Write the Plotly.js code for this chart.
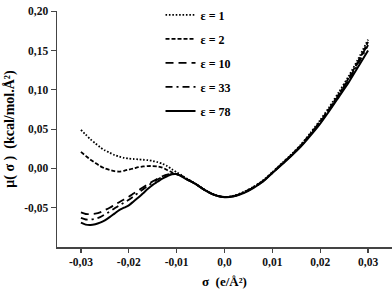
<!DOCTYPE html>
<html>
<head>
<meta charset="utf-8">
<script src="https://cdn.plot.ly/plotly-3.0.1.min.js"></script>
<style>html,body{margin:0;padding:0;background:#fff;}#chart{width:392px;height:289px;}</style>
</head>
<body>
<div id="chart"></div>
<script>
// sigma values (e/Å²)
const sigmaLeft = [-0.030,-0.029,-0.028,-0.027,-0.026,-0.025,-0.024,-0.023,-0.022,-0.021,-0.020,-0.019,-0.018,-0.017,-0.016,-0.015,-0.014,-0.013,-0.012,-0.011,-0.010];
const sigmaRight = [-0.009,-0.008,-0.006,-0.004,-0.002,0.000,0.002,0.004,0.006,0.008,0.010,0.012,0.014,0.016,0.018,0.020,0.022,0.024,0.026,0.028,0.030];

// mu(sigma) for each dielectric constant, left part
const muEps1Left  = [0.049,0.043,0.037,0.032,0.027,0.023,0.020,0.017,0.015,0.0135,0.0125,0.012,0.0115,0.011,0.0105,0.0095,0.008,0.006,0.003,-0.001,-0.005];
const muEps2Left  = [0.021,0.016,0.011,0.007,0.003,0.000,-0.002,-0.0035,-0.004,-0.003,-0.0015,0.000,0.0015,0.0025,0.003,0.003,0.0025,0.001,-0.002,-0.005,-0.0075];
const muEps10Left = [-0.056,-0.058,-0.058,-0.0575,-0.056,-0.053,-0.050,-0.0465,-0.043,-0.0395,-0.036,-0.032,-0.028,-0.024,-0.020,-0.0165,-0.013,-0.010,-0.008,-0.007,-0.0072];
const muEps33Left = [-0.063,-0.065,-0.065,-0.064,-0.062,-0.0585,-0.055,-0.051,-0.047,-0.0435,-0.040,-0.0355,-0.031,-0.0265,-0.022,-0.018,-0.014,-0.011,-0.0085,-0.0072,-0.0072];
const muEps78Left = [-0.069,-0.0715,-0.072,-0.071,-0.069,-0.066,-0.062,-0.0575,-0.053,-0.050,-0.047,-0.042,-0.037,-0.0315,-0.026,-0.021,-0.017,-0.013,-0.010,-0.0075,-0.0072];

// right part
const muEps1Right  = [-0.0085,-0.0125,-0.0195,-0.0275,-0.0335,-0.0363,-0.0347,-0.030,-0.0235,-0.0155,-0.0048,0.0067,0.018,0.0305,0.0455,0.0615,0.079,0.098,0.118,0.140,0.164];
const muEps2Right  = [-0.0095,-0.013,-0.020,-0.028,-0.034,-0.0365,-0.035,-0.0305,-0.024,-0.016,-0.0052,0.006,0.0175,0.0298,0.0445,0.060,0.077,0.0955,0.1155,0.137,0.161];
const muEps10Right = [-0.0097,-0.0132,-0.020,-0.028,-0.034,-0.0366,-0.035,-0.0308,-0.0245,-0.0163,-0.0055,0.0057,0.017,0.029,0.0437,0.059,0.076,0.0945,0.114,0.136,0.159];
const muEps33Right = [-0.0098,-0.0133,-0.020,-0.028,-0.034,-0.0366,-0.0352,-0.031,-0.0247,-0.0166,-0.0058,0.0053,0.0165,0.0285,0.043,0.058,0.0752,0.093,0.1125,0.134,0.157];
const muEps78Right = [-0.010,-0.0135,-0.020,-0.028,-0.034,-0.0366,-0.0355,-0.0315,-0.025,-0.017,-0.006,0.005,0.016,0.028,0.042,0.057,0.074,0.092,0.110,0.130,0.150];

const seriesNames = ["ε = 1","ε = 2","ε = 10","ε = 33","ε = 78"];
const seriesLeft = [muEps1Left, muEps2Left, muEps10Left, muEps33Left, muEps78Left];
const seriesRight = [muEps1Right, muEps2Right, muEps10Right, muEps33Right, muEps78Right];

const xTickVals = [-0.03,-0.02,-0.01,0,0.01,0.02,0.03];
const xTickText = ["-0,03","-0,02","-0,01","0,0","0,01","0,02","0,03"];
const yTickVals = [0.20,0.15,0.10,0.05,0.00,-0.05];
const yTickText = ["0,20","0,15","0,10","0,05","0,00","-0,05"];

const dashes = ["1.6px,1.8px","4px,2px","8px,5px","7px,4px,2px,4px","solid"];
const widths = [1.8,1.8,1.8,1.8,2];

const sigma = sigmaLeft.concat(sigmaRight);
const traces = seriesNames.map((name, i) => ({
  x: sigma,
  y: seriesLeft[i].concat(seriesRight[i]),
  type: "scatter",
  mode: "lines",
  name: name,
  legendgroup: "g" + i,
  line: {color: "#000", width: widths[i], dash: dashes[i], shape: "spline", smoothing: 0.8}
}));

const serif = "Liberation Serif, Times New Roman, serif";
const tickFont = {family: serif, size: 11.5, color: "#111", weight: 700};

const layout = {
  width: 392, height: 289,
  margin: {l: 57, r: 0, t: 5, b: 42},
  paper_bgcolor: "#fff", plot_bgcolor: "#fff",
  showlegend: true,
  legend: {
    x: 0.309, y: 1.045, xanchor: "left", yanchor: "top",
    bgcolor: "rgba(0,0,0,0)",
    font: {family: serif, size: 12, color: "#000", weight: 700},
    tracegroupgap: 5,
    itemwidth: 30
  },
  xaxis: {
    range: [-0.035, 0.035],
    tickvals: xTickVals, ticktext: xTickText,
    ticks: "outside", ticklen: 4, tickwidth: 1.2, tickcolor: "#444",
    showline: true, linecolor: "#444", linewidth: 1.5,
    showgrid: false, zeroline: false,
    tickfont: tickFont,
    title: {text: "σ  (e/Å²)", font: {family: serif, size: 13, color: "#000", weight: 700}, standoff: 9}
  },
  yaxis: {
    range: [-0.10, 0.2003],
    tickvals: yTickVals, ticktext: yTickText,
    ticks: "outside", ticklen: 5, tickwidth: 1.2, tickcolor: "#444",
    showline: true, linecolor: "#444", linewidth: 1.5,
    showgrid: false, zeroline: false,
    tickfont: tickFont,
    title: {text: "μ( σ )  (kcal/mol.Å²)", font: {family: serif, size: 14, color: "#000", weight: 700}, standoff: 6}
  }
};

Plotly.newPlot("chart", traces, layout, {staticPlot: true, displayModeBar: false});
</script>
</body>
</html>
